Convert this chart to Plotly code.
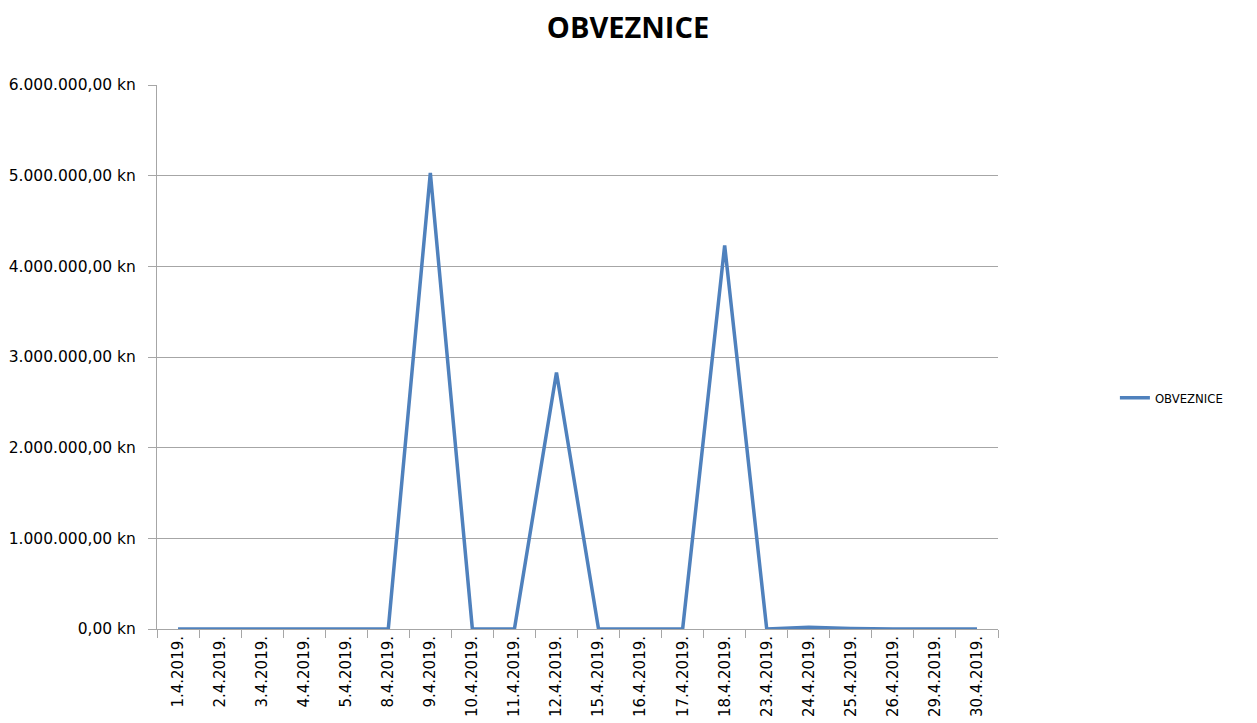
import plotly.graph_objects as go

dates = ["1.4.2019.", "2.4.2019.", "3.4.2019.", "4.4.2019.", "5.4.2019.",
         "8.4.2019.", "9.4.2019.", "10.4.2019.", "11.4.2019.", "12.4.2019.",
         "15.4.2019.", "16.4.2019.", "17.4.2019.", "18.4.2019.", "23.4.2019.",
         "24.4.2019.", "25.4.2019.", "26.4.2019.", "29.4.2019.", "30.4.2019."]
obveznice = [0, 0, 0, 0, 0,
             0, 5030000, 0, 0, 2830000,
             0, 0, 0, 4230000, 0,
             20000, 5000, 0, 0, 0]

LINE_COLOR = "#4F81BD"
GRID_COLOR = "#A6A6A6"
FONT = "DejaVu Sans"

# the page body adds an 8px offset, so the margins are shifted by 8
fig = go.Figure(go.Scatter(
    x=dates,
    y=obveznice,
    mode="lines",
    name="OBVEZNICE",
    line={'color': LINE_COLOR, 'width': 3.5},
))

fig.update_layout(
    width=1257,
    height=723,
    margin={'l': 149, 'r': 267, 't': 77, 'b': 102},
    paper_bgcolor="white",
    plot_bgcolor="white",
    separators=",.",
    title={
        'text': "<b>OBVEZNICE</b>",
        'x': (628 - 8) / 1257,
        'xanchor': "center",
        'y': 1 - 20 / 723,
        'yanchor': "middle",
        'font': {'family': "Open Sans", 'size': 29, 'color': "#000000"},
    },
    showlegend=True,
    legend={
        'x': 1.139,
        'xanchor': "left",
        'y': 0.425,
        'yanchor': "middle",
        'font': {'family': "DejaVu Sans Condensed", 'size': 13, 'color': "#000000"},
        'bgcolor': "rgba(0,0,0,0)",
    },
    font={'family': FONT, 'size': 14, 'color': "#000000"},
)

fig.update_xaxes(
    type="category",
    range=[-0.5, len(dates) - 0.5],
    tickangle=-90,
    showgrid=False,
    showline=True,
    linecolor=GRID_COLOR,
    linewidth=1,
    ticks="outside",
    tickson="boundaries",
    ticklen=8,
    tickcolor=GRID_COLOR,
    tickfont={'family': FONT, 'size': 15, 'color': "#000000"},
    automargin=False,
    zeroline=False,
)

fig.update_yaxes(
    range=[0, 6000000],
    dtick=1000000,
    tickformat=",.2f",
    ticksuffix=" kn",
    showgrid=True,
    gridcolor=GRID_COLOR,
    gridwidth=1,
    showline=True,
    linecolor=GRID_COLOR,
    linewidth=1,
    ticks="outside",
    ticklen=8,
    tickcolor=GRID_COLOR,
    ticklabelstandoff=9,
    tickfont={'family': FONT, 'size': 15.5, 'color': "#000000"},
    automargin=False,
    zeroline=False,
)

fig.write_html("out.html")
